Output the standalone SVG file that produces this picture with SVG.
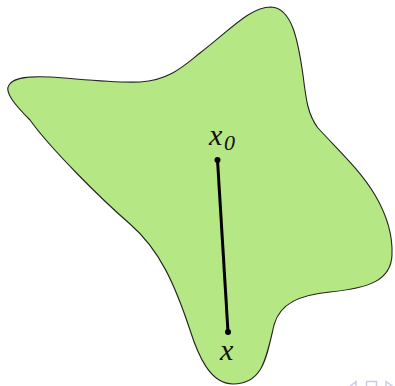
<svg xmlns="http://www.w3.org/2000/svg" width="395" height="386" viewBox="0 0 395 386">
<style>
.region{fill:#b5e784;stroke:#222;stroke-width:1.1}
.seg{stroke:#000;stroke-width:3;fill:none}
.pt{fill:#000}
.lbl{font-family:"Liberation Serif",serif;font-style:italic;fill:#111}
.nav{fill:none;stroke:#c9c9ea;stroke-width:1.5}
</style>
<rect width="395" height="386" fill="#fff"/>
<g id="region">
<path class="region" d="M271,7 C292,8 298,40 303,75 C306,100 308,115 318,128 C340,152 360,170 375,195 C385,212 393,232 392,255 C391,280 370,288 330,292 C300,295 280,303 274,325 C266,360 262,384 233,384 C210,384 198,355 190,330 C175,285 160,250 130,224 C100,198 50,148 30,120 C15,105 4,92 9,85 C14,77 30,76 50,77 C80,79 110,83 140,82 C170,80 185,65 200,53 C230,30 250,7 271,7 Z"/>
</g>
<g id="connectors">
<line class="seg" x1="217.5" y1="160" x2="228" y2="332"/>
</g>
<g id="x0">
<circle class="pt" cx="217.5" cy="160" r="3"/>
<text class="lbl" x="209" y="145" font-size="30">x</text>
<text class="lbl" x="224" y="150" font-size="22">0</text>
</g>
<g id="x">
<circle class="pt" cx="228" cy="332" r="3"/>
<text class="lbl" x="220" y="360" font-size="30">x</text>
</g>
<g id="nav">
<path class="nav" d="M356,381.5 L350.5,386 L356,390.5 Z"/>
<rect class="nav" x="366.5" y="381.5" width="10" height="8"/>
<path class="nav" d="M386,381.5 L392,386 L386,390.5 Z"/>
</g>
</svg>
